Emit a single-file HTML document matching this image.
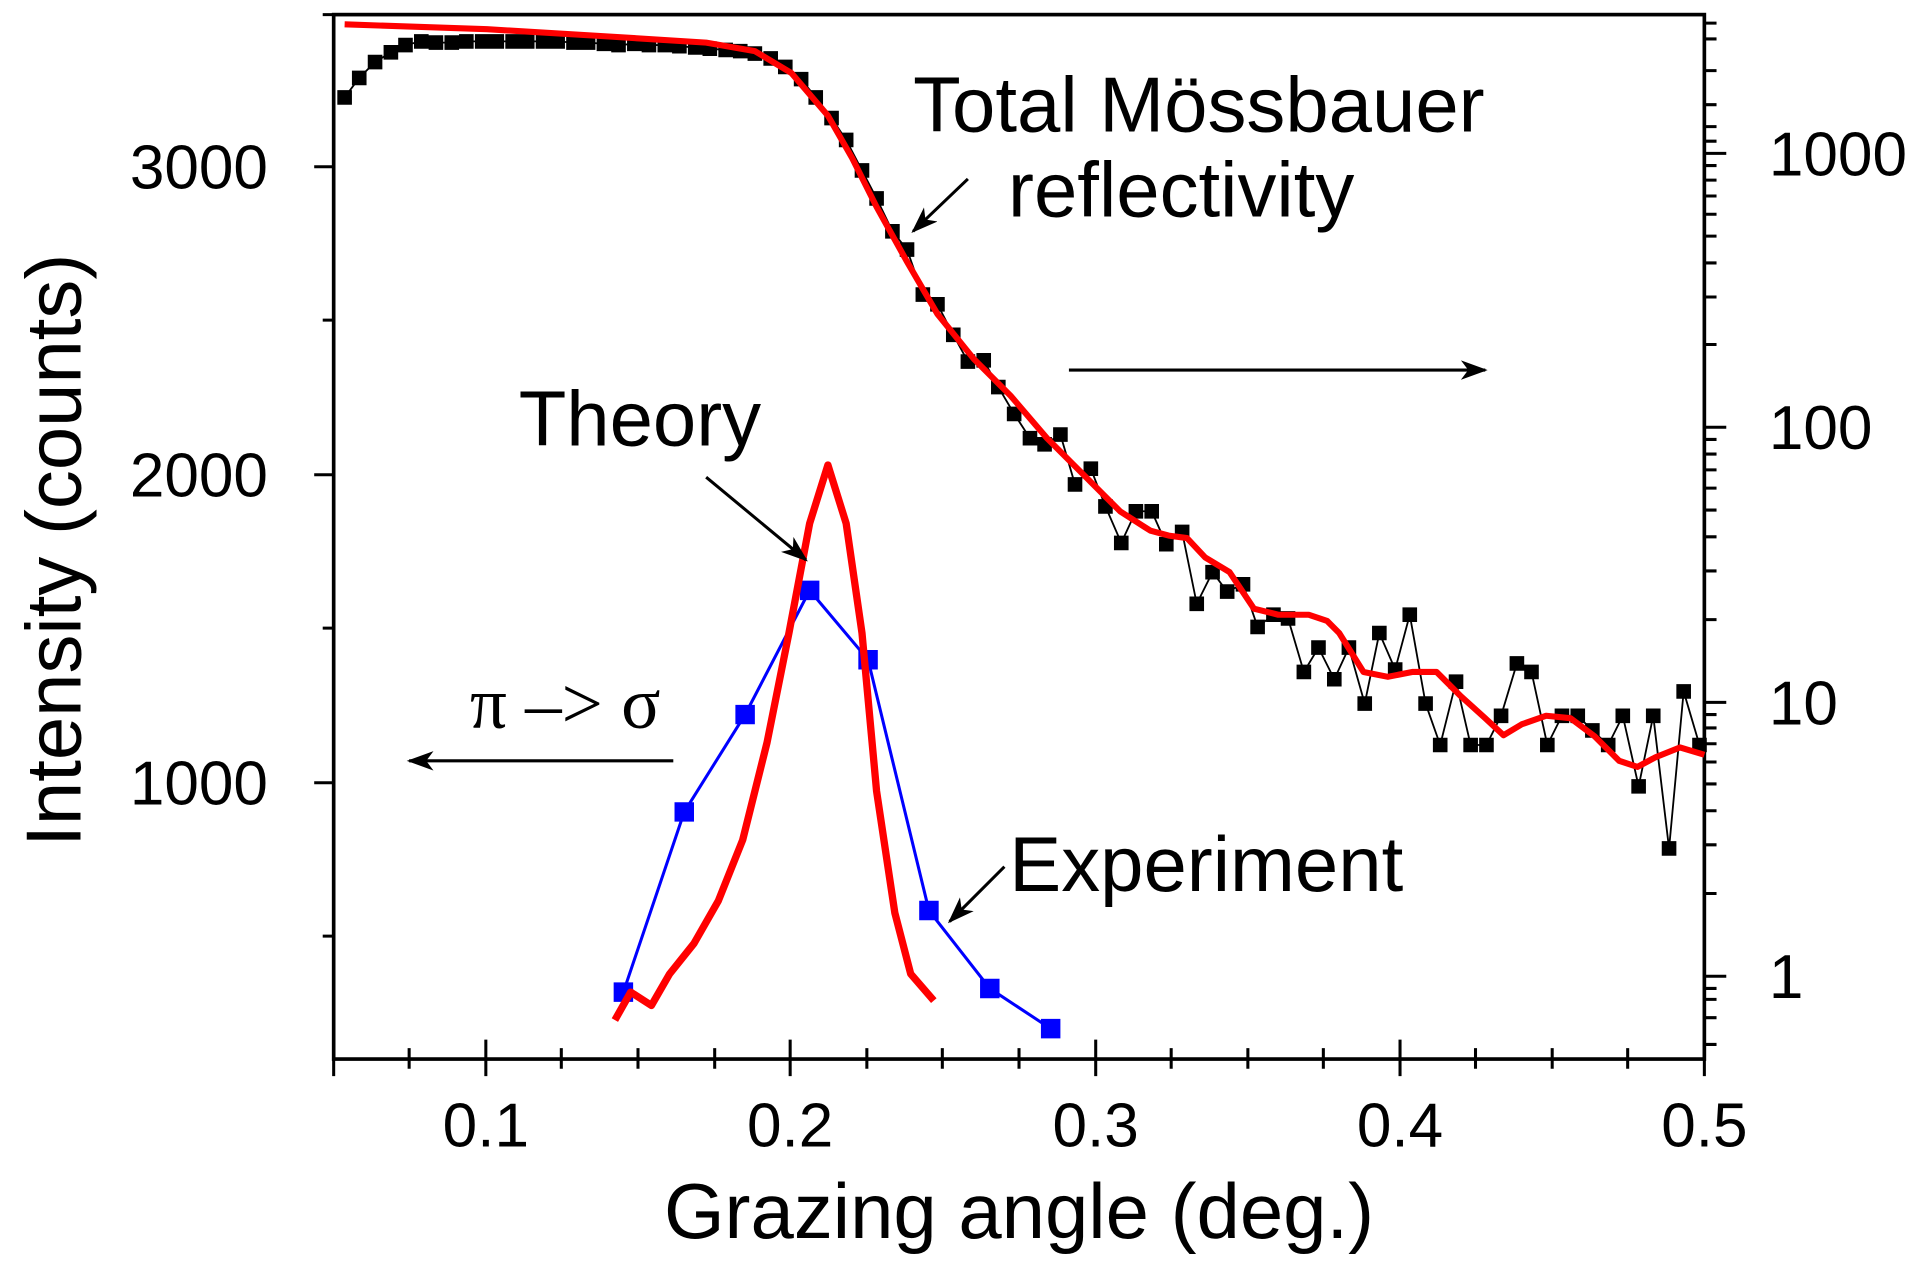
<!DOCTYPE html>
<html><head><meta charset="utf-8"><style>html,body{margin:0;padding:0;background:#fff;}svg{display:block}</style></head>
<body>
<svg width="1909" height="1266" viewBox="0 0 1568 1040" xmlns="http://www.w3.org/2000/svg" font-family="Liberation Sans, Arial, sans-serif">
<defs>
<marker id="ab" markerWidth="22" markerHeight="16" refX="20" refY="8" orient="auto" markerUnits="userSpaceOnUse"><path d="M0,0 L22,8 L0,16 L6,8 z" fill="#000"/></marker>
</defs>
<rect x="274" y="12" width="1126" height="858" fill="none" stroke="#000" stroke-width="3"/>
<g stroke="#000" stroke-width="2.5">
<path d="M399,870v-16M649,870v-16M900,870v-16M1150,870v-16M1400,870v-16M399,870v14M649,870v14M900,870v14M1150,870v14M1400,870v14M274,870v14"/>
<path d="M336,870v-9M461,870v-9M524,870v-9M587,870v-9M712,870v-9M774,870v-9M837,870v-9M962,870v-9M1025,870v-9M1087,870v-9M1212,870v-9M1275,870v-9M1337,870v-9M336,870v8M461,870v8M524,870v8M587,870v8M712,870v8M774,870v8M837,870v8M962,870v8M1025,870v8M1087,870v8M1212,870v8M1275,870v8M1337,870v8"/>
<path d="M274,137h-16M274,390h-16M274,643h-16M274,263h-9M274,516h-9M274,769h-9M274,12h-9"/>
<path d="M1400,126h18M1400,351h18M1400,577h18M1400,802h18"/>
<path d="M1400,58h10M1400,86h10M1400,104h10M1400,116h10M1400,32h10M1400,19h10M1400,283h10M1400,244h10M1400,216h10M1400,194h10M1400,176h10M1400,161h10M1400,148h10M1400,136h10M1400,509h10M1400,469h10M1400,441h10M1400,419h10M1400,401h10M1400,386h10M1400,373h10M1400,361h10M1400,734h10M1400,694h10M1400,666h10M1400,644h10M1400,626h10M1400,611h10M1400,598h10M1400,587h10M1400,836h10M1400,858h10M1400,821h10M1400,812h10"/>
</g>
<g font-size="51" fill="#000">
<text x="399" y="942" text-anchor="middle">0.1</text>
<text x="649" y="942" text-anchor="middle">0.2</text>
<text x="900" y="942" text-anchor="middle">0.3</text>
<text x="1150" y="942" text-anchor="middle">0.4</text>
<text x="1400" y="942" text-anchor="middle">0.5</text>
<text x="220" y="155" text-anchor="end">3000</text>
<text x="220" y="408" text-anchor="end">2000</text>
<text x="220" y="661" text-anchor="end">1000</text>
<text x="1453" y="144">1000</text>
<text x="1453" y="369">100</text>
<text x="1453" y="595">10</text>
<text x="1453" y="820">1</text>
</g>
<text x="837" y="1017" font-size="64" text-anchor="middle">Grazing angle (deg.)</text>
<text transform="translate(66,452) rotate(-90)" font-size="64" text-anchor="middle">Intensity  (counts)</text>
<polyline fill="none" stroke="#000" stroke-width="1.5" points="283,80 295,64 308,51 321,43 333,37 346,34 358,35 371,35 383,34 396,34 408,34 421,34 433,34 446,34 458,34 471,35 483,35 496,36 508,37 521,36 533,37 546,37 558,38 571,39 583,40 596,41 608,42 620,44 633,48 645,55 658,65 670,80 683,97 695,115 708,140 720,163 733,190 745,205 758,242 770,250 783,275 795,297 808,296 820,318 833,340 846,360 858,365 871,357 883,398 896,385 908,416 921,446 933,420 946,420 958,447 971,437 983,496 996,470 1008,486 1021,480 1033,515 1046,505 1058,508 1071,552 1083,532 1096,558 1108,532 1121,578 1133,520 1146,550 1158,505 1171,578 1183,612 1196,560 1208,612 1221,612 1233,588 1246,545 1258,552 1271,612 1283,588 1296,588 1308,600 1321,612 1333,588 1346,646 1358,588 1371,697 1383,568 1396,612"/>
<g fill="#000">
<path d="M283,80 m-6,-6h12v12h-12z M295,64 m-6,-6h12v12h-12z M308,51 m-6,-6h12v12h-12z M321,43 m-6,-6h12v12h-12z M333,37 m-6,-6h12v12h-12z M346,34 m-6,-6h12v12h-12z M358,35 m-6,-6h12v12h-12z M371,35 m-6,-6h12v12h-12z M383,34 m-6,-6h12v12h-12z M396,34 m-6,-6h12v12h-12z M408,34 m-6,-6h12v12h-12z M421,34 m-6,-6h12v12h-12z M433,34 m-6,-6h12v12h-12z M446,34 m-6,-6h12v12h-12z M458,34 m-6,-6h12v12h-12z M471,35 m-6,-6h12v12h-12z M483,35 m-6,-6h12v12h-12z M496,36 m-6,-6h12v12h-12z M508,37 m-6,-6h12v12h-12z M521,36 m-6,-6h12v12h-12z M533,37 m-6,-6h12v12h-12z M546,37 m-6,-6h12v12h-12z M558,38 m-6,-6h12v12h-12z M571,39 m-6,-6h12v12h-12z M583,40 m-6,-6h12v12h-12z M596,41 m-6,-6h12v12h-12z M608,42 m-6,-6h12v12h-12z M620,44 m-6,-6h12v12h-12z M633,48 m-6,-6h12v12h-12z M645,55 m-6,-6h12v12h-12z M658,65 m-6,-6h12v12h-12z M670,80 m-6,-6h12v12h-12z M683,97 m-6,-6h12v12h-12z M695,115 m-6,-6h12v12h-12z M708,140 m-6,-6h12v12h-12z M720,163 m-6,-6h12v12h-12z M733,190 m-6,-6h12v12h-12z M745,205 m-6,-6h12v12h-12z M758,242 m-6,-6h12v12h-12z M770,250 m-6,-6h12v12h-12z M783,275 m-6,-6h12v12h-12z M795,297 m-6,-6h12v12h-12z M808,296 m-6,-6h12v12h-12z M820,318 m-6,-6h12v12h-12z M833,340 m-6,-6h12v12h-12z M846,360 m-6,-6h12v12h-12z M858,365 m-6,-6h12v12h-12z M871,357 m-6,-6h12v12h-12z M883,398 m-6,-6h12v12h-12z M896,385 m-6,-6h12v12h-12z M908,416 m-6,-6h12v12h-12z M921,446 m-6,-6h12v12h-12z M933,420 m-6,-6h12v12h-12z M946,420 m-6,-6h12v12h-12z M958,447 m-6,-6h12v12h-12z M971,437 m-6,-6h12v12h-12z M983,496 m-6,-6h12v12h-12z M996,470 m-6,-6h12v12h-12z M1008,486 m-6,-6h12v12h-12z M1021,480 m-6,-6h12v12h-12z M1033,515 m-6,-6h12v12h-12z M1046,505 m-6,-6h12v12h-12z M1058,508 m-6,-6h12v12h-12z M1071,552 m-6,-6h12v12h-12z M1083,532 m-6,-6h12v12h-12z M1096,558 m-6,-6h12v12h-12z M1108,532 m-6,-6h12v12h-12z M1121,578 m-6,-6h12v12h-12z M1133,520 m-6,-6h12v12h-12z M1146,550 m-6,-6h12v12h-12z M1158,505 m-6,-6h12v12h-12z M1171,578 m-6,-6h12v12h-12z M1183,612 m-6,-6h12v12h-12z M1196,560 m-6,-6h12v12h-12z M1208,612 m-6,-6h12v12h-12z M1221,612 m-6,-6h12v12h-12z M1233,588 m-6,-6h12v12h-12z M1246,545 m-6,-6h12v12h-12z M1258,552 m-6,-6h12v12h-12z M1271,612 m-6,-6h12v12h-12z M1283,588 m-6,-6h12v12h-12z M1296,588 m-6,-6h12v12h-12z M1308,600 m-6,-6h12v12h-12z M1321,612 m-6,-6h12v12h-12z M1333,588 m-6,-6h12v12h-12z M1346,646 m-6,-6h12v12h-12z M1358,588 m-6,-6h12v12h-12z M1371,697 m-6,-6h12v12h-12z M1383,568 m-6,-6h12v12h-12z M1396,612 m-6,-6h12v12h-12z"/>
</g>
<polyline fill="none" stroke="#ff0000" stroke-width="5" stroke-linejoin="round" points="283,20 400,24 500,30 580,35 620,42 650,60 680,95 700,130 720,170 745,215 770,258 800,295 830,325 860,360 890,390 920,420 945,436 960,440 975,442 990,458 1010,470 1030,500 1050,505 1075,505 1090,510 1100,520 1120,552 1140,556 1160,552 1180,552 1200,572 1220,590 1235,604 1250,595 1270,588 1290,590 1310,605 1330,625 1345,630 1360,622 1380,614 1400,620"/>
<polyline fill="none" stroke="#0000ff" stroke-width="2.5" points="512,815 562,667 612,587 665,485 713,542 763,748 813,812 863,845"/>
<path fill="#0000ff" d="M512,815m-8,-8h16v16h-16z M562,667m-8,-8h16v16h-16z M612,587m-8,-8h16v16h-16z M665,485m-8,-8h16v16h-16z M713,542m-8,-8h16v16h-16z M763,748m-8,-8h16v16h-16z M813,812m-8,-8h16v16h-16z M863,845m-8,-8h16v16h-16z"/>
<polyline fill="none" stroke="#ff0000" stroke-width="6" stroke-linejoin="round" points="505,838 518,815 535,826 550,800 570,775 590,740 610,690 630,610 648,520 665,430 680,382 695,430 708,520 720,650 735,750 748,800 767,822"/>
<g font-size="64" fill="#000">
<text x="750" y="108">Total Mössbauer</text>
<text x="828" y="178">reflectivity</text>
<text x="426" y="366">Theory</text>
<text x="829" y="732">Experiment</text>
<text x="386" y="598" font-family="Liberation Serif, serif" font-size="60">π –&gt; σ</text>
</g>
<g stroke="#000" stroke-width="2.5" fill="none">
<line x1="795" y1="147" x2="750" y2="190" marker-end="url(#ab)"/>
<line x1="580" y1="392" x2="662" y2="460" marker-end="url(#ab)"/>
<line x1="825" y1="712" x2="780" y2="757" marker-end="url(#ab)"/>
<line x1="878" y1="304" x2="1220" y2="304" marker-end="url(#ab)"/>
<line x1="553" y1="625" x2="336" y2="625" marker-end="url(#ab)"/>
</g>
</svg>
</body></html>
